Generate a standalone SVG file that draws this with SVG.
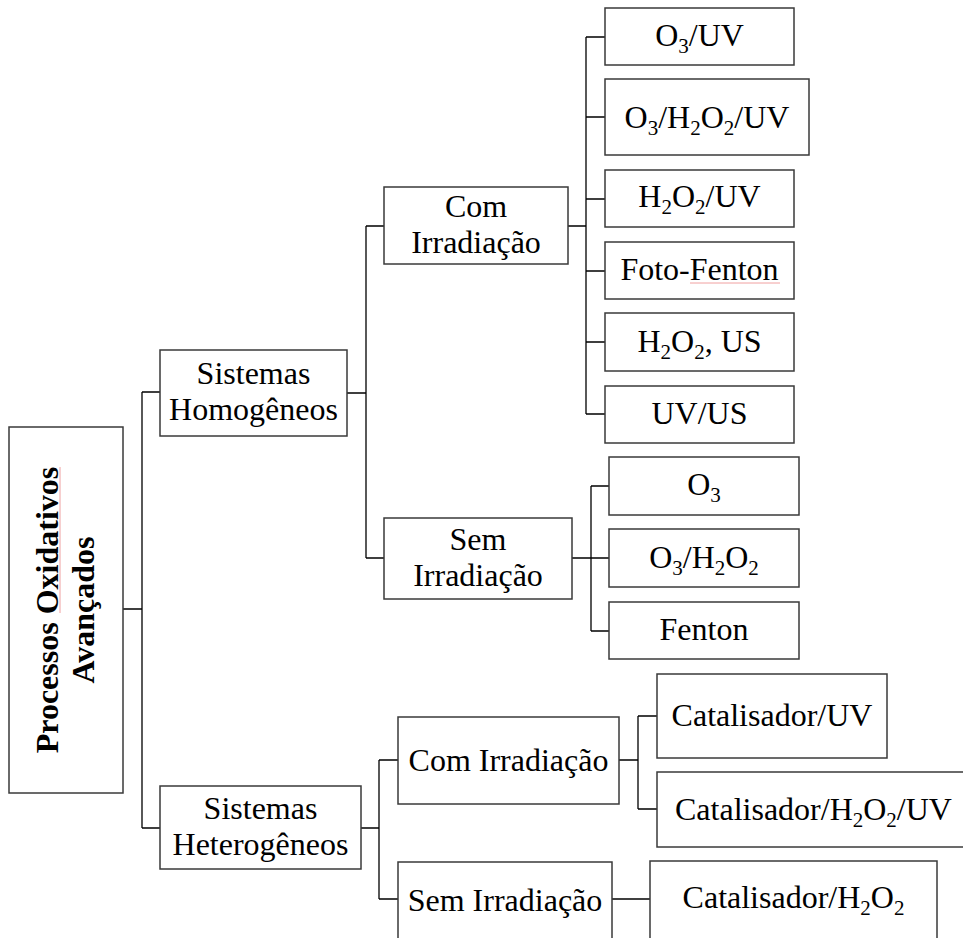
<svg xmlns="http://www.w3.org/2000/svg" width="963" height="938" viewBox="0 0 963 938">
<style>
.box{fill:#fff;stroke:#3a3a3a;stroke-width:1.5}
.con{stroke:#000;stroke-width:1.3;fill:none}
.t{font-family:"Liberation Serif","Times New Roman",serif;font-size:32px;fill:#000;text-anchor:middle}
.b{font-weight:bold}
.s{font-size:21px}
.spell{stroke:#f0a0a0;stroke-width:1}
</style>
<rect width="963" height="938" fill="#fff"/>
<g id="connectors" class="con">
<path d="M123,609H142M142,392V828M142,392H160M142,828H160"/>
<path d="M347,393H366M366,226V558M366,226H384M366,558H384"/>
<path d="M568,226H586M586,37V414M586,37H605M586,117H605M586,199H605M586,271H605M586,342H605M586,414H605"/>
<path d="M572,558H591M591,486V631M591,486H609M591,558H609M591,631H609"/>
<path d="M361,828H379M379,760V899M379,760H398M379,899H398"/>
<path d="M619,760H638M638,716V809M638,716H657M638,809H657"/>
<path d="M612,899H650"/>
</g>
<g id="n-poa">
<rect class="box" x="9" y="427" width="114" height="366"/>
<text class="t b" transform="translate(58,610) rotate(-90)">Processos Oxidativos</text>
<text class="t b" transform="translate(94,610) rotate(-90)">Avançados</text>
<line class="spell" x1="60" y1="467" x2="60" y2="613"/>
</g>
<g id="n-homog">
<rect class="box" x="160" y="350" width="187" height="86"/>
<text class="t" x="253.5" y="384">Sistemas</text>
<text class="t" x="253.5" y="420">Homogêneos</text>
</g>
<g id="n-heterog">
<rect class="box" x="160" y="786" width="201" height="83"/>
<text class="t" x="260.5" y="819">Sistemas</text>
<text class="t" x="260.5" y="855">Heterogêneos</text>
</g>
<g id="n-hom-com">
<rect class="box" x="384" y="187" width="184" height="77"/>
<text class="t" x="476" y="217">Com</text>
<text class="t" x="476" y="253">Irradiação</text>
</g>
<g id="n-hom-sem">
<rect class="box" x="384" y="518" width="188" height="81"/>
<text class="t" x="478" y="550">Sem</text>
<text class="t" x="478" y="586">Irradiação</text>
</g>
<g id="n-o3uv">
<rect class="box" x="605" y="8" width="189" height="57"/>
<text class="t" x="699.5" y="45.5">O<tspan class="s" dy="7">3</tspan><tspan dy="-7">/UV</tspan></text>
</g>
<g id="n-o3h2o2uv">
<rect class="box" x="605" y="79" width="204" height="76"/>
<text class="t" x="707" y="127.5">O<tspan class="s" dy="7">3</tspan><tspan dy="-7">/H</tspan><tspan class="s" dy="7">2</tspan><tspan dy="-7">O</tspan><tspan class="s" dy="7">2</tspan><tspan dy="-7">/UV</tspan></text>
</g>
<g id="n-h2o2uv">
<rect class="box" x="605" y="170" width="189" height="57"/>
<text class="t" x="699.5" y="207">H<tspan class="s" dy="7">2</tspan><tspan dy="-7">O</tspan><tspan class="s" dy="7">2</tspan><tspan dy="-7">/UV</tspan></text>
</g>
<g id="n-fotofenton">
<rect class="box" x="605" y="242" width="189" height="57"/>
<text class="t" x="699.5" y="280">Foto-Fenton</text>
<line class="spell" x1="690" y1="283" x2="780" y2="283"/>
</g>
<g id="n-h2o2us">
<rect class="box" x="605" y="313" width="189" height="58"/>
<text class="t" x="699.5" y="352">H<tspan class="s" dy="7">2</tspan><tspan dy="-7">O</tspan><tspan class="s" dy="7">2</tspan><tspan dy="-7">, US</tspan></text>
</g>
<g id="n-uvus">
<rect class="box" x="605" y="386" width="189" height="57"/>
<text class="t" x="699.5" y="424">UV/US</text>
</g>
<g id="n-o3">
<rect class="box" x="609" y="457" width="190" height="58"/>
<text class="t" x="704" y="495">O<tspan class="s" dy="7">3</tspan></text>
</g>
<g id="n-o3h2o2">
<rect class="box" x="609" y="529" width="190" height="58"/>
<text class="t" x="704" y="568">O<tspan class="s" dy="7">3</tspan><tspan dy="-7">/H</tspan><tspan class="s" dy="7">2</tspan><tspan dy="-7">O</tspan><tspan class="s" dy="7">2</tspan></text>
</g>
<g id="n-fenton">
<rect class="box" x="609" y="602" width="190" height="57"/>
<text class="t" x="704" y="640">Fenton</text>
</g>
<g id="n-het-com">
<rect class="box" x="398" y="717" width="221" height="87"/>
<text class="t" x="508.5" y="771">Com Irradiação</text>
</g>
<g id="n-het-sem">
<rect class="box" x="398" y="862" width="214" height="90"/>
<text class="t" x="505" y="911">Sem Irradiação</text>
</g>
<g id="n-catuv">
<rect class="box" x="657" y="674" width="230" height="84"/>
<text class="t" x="772" y="726">Catalisador/UV</text>
</g>
<g id="n-cath2o2uv">
<rect class="box" x="657" y="772" width="313" height="75"/>
<text class="t" x="813.5" y="820">Catalisador/H<tspan class="s" dy="7">2</tspan><tspan dy="-7">O</tspan><tspan class="s" dy="7">2</tspan><tspan dy="-7">/UV</tspan></text>
</g>
<g id="n-cath2o2">
<rect class="box" x="650" y="861" width="287" height="90"/>
<text class="t" x="793.5" y="908">Catalisador/H<tspan class="s" dy="7">2</tspan><tspan dy="-7">O</tspan><tspan class="s" dy="7">2</tspan></text>
</g>
</svg>
